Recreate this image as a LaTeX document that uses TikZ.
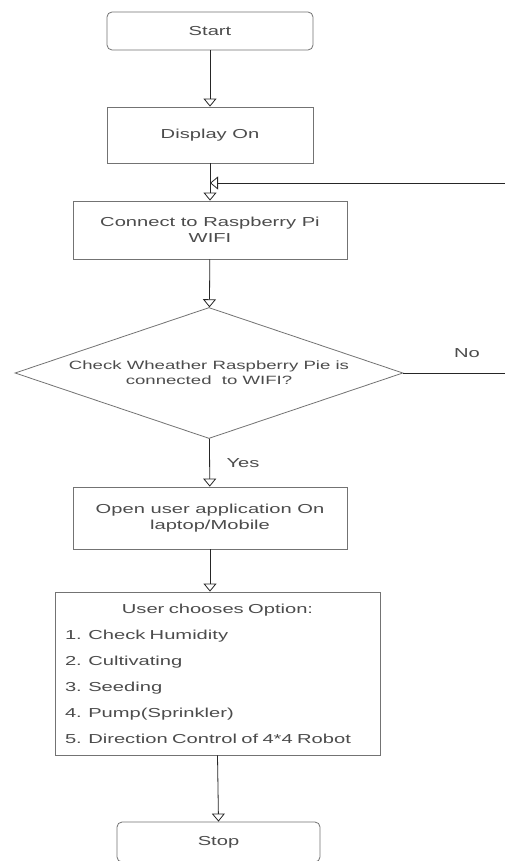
\documentclass[tikz,border=0pt]{standalone}
\usepackage{fontspec}
\setmainfont{Liberation Sans}[FakeStretch=1.55]
\usetikzlibrary{arrows.meta, shapes.geometric}
\newcommand{\flowfont}{\fontsize{13}{16}\selectfont}
\tikzset{
  term box/.style={
    draw=black!55,
    line width=0.8pt,
    rounded corners=5pt,
    minimum width=206pt,
    minimum height=38pt,
    font=\flowfont,
    text=black!70
  },
  proc box/.style={
    draw=black!55,
    line width=0.8pt,
    align=center,
    font=\flowfont,
    text=black!70
  },
  check/.style={
    diamond,
    draw=black!55,
    line width=0.8pt,
    align=center,
    inner sep=0pt,
    shape aspect=3,
    font=\fontsize{12}{15}\selectfont,
    text=black!70
  },
  flow/.style={
    ->,
    line width=0.8pt,
    color=black!85
  },
  branch label/.style={
    font=\flowfont,
    text=black!70
  }
}

\begin{document}
\begin{tikzpicture}[x=1pt, y=-1pt, >={Triangle[open, length=8pt, width=13pt]}]
    \path[fill=white] (0,0) rectangle (505,861);
    \useasboundingbox (0,0) rectangle (505,861);

    % boxes
    \node[term box] (start) at (210,31) {Start};
    \node[proc box, minimum width=206pt, minimum height=56pt] (display) at (210,135) {Display On};
    \node[proc box, minimum width=274pt, minimum height=58pt] (connect) at (210,230) {Connect to Raspberry Pi\\WIFI};
    \node[check, minimum width=388pt, minimum height=131pt] (wifi) at (209,373) {Check Wheather Raspberry Pie is\\connected\ \ to WIFI?};
    \node[proc box, minimum width=274pt, minimum height=62pt] (app) at (210,518) {Open user application On\\laptop/Mobile};
    \node[proc box, minimum width=325pt, minimum height=163pt, text width=305pt, align=left] (choose) at (217.5,673.5)
      {\makebox[\linewidth][c]{User chooses Option:}\\[10pt]
       1. Check Humidity\\[10pt]
       2. Cultivating\\[10pt]
       3. Seeding\\[10pt]
       4. Pump(Sprinkler)\\[10pt]
       5. Direction Control of 4*4 Robot};
    \node[term box, minimum width=203pt, minimum height=40pt] (stop) at (218.5,842) {Stop};

    % labels
    \node[branch label] (no) at (467,353) {No};
    \node[branch label] (yes) at (243,463) {Yes};

    % loop back
    \coordinate (noR) at (508,373);
    \coordinate (loopR) at (508,183);

    \draw[flow] (start) -- (display);
    \draw[flow] (display) -- (connect);
    \draw[flow] (connect) -- (wifi);
    \draw[flow] (wifi) -- (app);
    \draw[flow] (app.south) -- (app.south |- choose.north);
    \draw[flow] (choose.south) -- (stop.north);
    \draw[flow] (wifi.east) -- (noR) -- (loopR) -- (display.south |- loopR);

  \end{tikzpicture}
\end{document}
